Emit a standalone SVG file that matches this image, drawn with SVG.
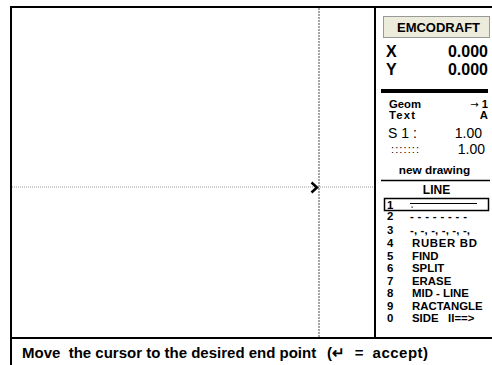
<svg xmlns="http://www.w3.org/2000/svg" width="492" height="365" viewBox="0 0 492 365">
<style>
text{font-family:"Liberation Sans",Arial,sans-serif;fill:#000}
.b{font-weight:bold}
.m{font-size:11.4px;font-weight:bold}
.frame{stroke:#000;stroke-width:2;fill:none}
.r{text-anchor:end}
.c{text-anchor:middle}
</style>
<rect width="492" height="365" fill="#fff"/>
<g id="frame">
<line class="frame" x1="11" y1="7" x2="11" y2="365"/>
<line class="frame" x1="10" y1="7" x2="492" y2="7"/>
<line class="frame" x1="375" y1="7" x2="375" y2="338"/>
<line class="frame" x1="10" y1="338" x2="492" y2="338"/>
</g>
<g id="crosshair">
<line x1="319" y1="8" x2="319" y2="337" stroke="#888" stroke-width="1.5" stroke-dasharray="2,1"/>
<line x1="12" y1="187" x2="374" y2="187" stroke="#999" stroke-width="1" stroke-dasharray="1,1"/>
<path d="M311.5,182.5 L317,187.5 L311.5,192.5" fill="none" stroke="#000" stroke-width="2.5"/>
</g>
<g id="title">
<rect x="383.5" y="16.5" width="106" height="21" fill="#ECEBDC" stroke="#999" stroke-width="1"/>
<text class="b c" x="438.5" y="32" font-size="13">EMCODRAFT</text>
</g>
<g id="coords">
<text class="b" x="386" y="57" font-size="16">X</text>
<text class="b r" x="488" y="57" font-size="16">0.000</text>
<text class="b" x="386" y="75" font-size="16">Y</text>
<text class="b r" x="488" y="75" font-size="16">0.000</text>
<rect x="381" y="89" width="107" height="4" fill="#000"/>
</g>
<g id="settings">
<text class="b" x="389" y="108" font-size="11.3">Geom</text>
<text class="b r" x="488" y="108" font-size="11.3"><tspan font-family="DejaVu Sans" font-weight="normal" font-size="10">→</tspan> 1</text>
<text class="b" x="389" y="119" font-size="11.3" textLength="26">Text</text>
<text class="b r" x="488" y="119" font-size="11.3">A</text>
<text x="388" y="137.5" font-size="14">S 1 :</text>
<text class="r" x="482" y="137.5" font-size="14">1.00</text>
<text x="391" y="153" font-size="11" textLength="28">:::::::</text>
<text class="r" x="485" y="154" font-size="14">1.00</text>
<text class="b c" x="434.5" y="174" font-size="11.8">new drawing</text>
<line x1="381" y1="180.5" x2="490" y2="180.5" stroke="#000" stroke-width="1.5"/>
</g>
<g id="menu">
<text class="b c" x="436.5" y="194" font-size="12">LINE</text>
<rect x="384.5" y="198.5" width="104" height="12" fill="none" stroke="#000" stroke-width="1.5"/>
<text class="m" x="387" y="208.5">1</text>
<line x1="410" y1="203.5" x2="477" y2="203.5" stroke="#000" stroke-width="1"/>
<rect x="411.5" y="206.5" width="1.2" height="1.2" fill="#000"/>
<text class="m" x="387" y="220">2</text>
<text class="m" x="410" y="220" textLength="57">- - - - - - - -</text>
<text class="m" x="387" y="233.5">3</text>
<text class="m" x="410" y="233.5" textLength="60">-, -, -, -, -, -,</text>
<text class="m" x="387" y="247">4</text><text class="m" x="412" y="247" textLength="65">RUBER BD</text>
<text class="m" x="387" y="259.5">5</text><text class="m" x="412" y="259.5">FIND</text>
<text class="m" x="387" y="272">6</text><text class="m" x="412" y="272">SPLIT</text>
<text class="m" x="387" y="284.5">7</text><text class="m" x="412" y="284.5">ERASE</text>
<text class="m" x="387" y="297">8</text><text class="m" x="412" y="297">MID - LINE</text>
<text class="m" x="387" y="309.5">9</text><text class="m" x="412" y="309.5">RACTANGLE</text>
<text class="m" x="387" y="322">0</text><text class="m" x="412" y="322" xml:space="preserve">SIDE   II==&gt;</text>
</g>
<g id="status">
<text class="b" x="22" y="357.5" font-size="15" xml:space="preserve">Move  the cursor to the desired end point <tspan x="327" letter-spacing="0.5" word-spacing="4">(↵ = accept)</tspan></text>
</g>
</svg>
